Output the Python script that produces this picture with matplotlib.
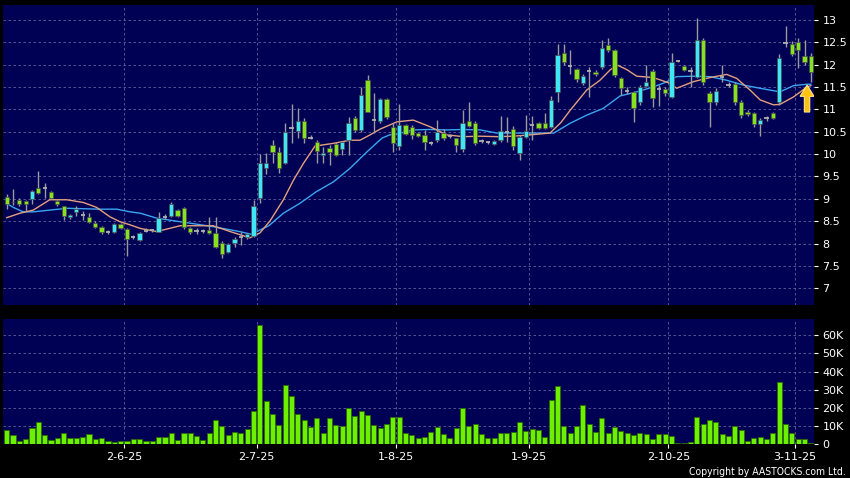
import matplotlib
matplotlib.use("Agg")
import matplotlib.pyplot as plt
from matplotlib.patches import FancyArrow
import numpy as np

# ---------------- data ----------------
opens = [9.05, 8.93, 8.98, 8.96, 8.99, 9.24, 9.25, 9.16, 8.96, 8.83,
         8.59, 8.71, 8.63, 8.59, 8.47, 8.37, 8.27, 8.25, 8.44, 8.33,
         8.14, 8.08, 8.29, 8.30, 8.27, 8.60, 8.62, 8.75, 8.79, 8.34,
         8.29, 8.29, 8.31, 8.23, 8.02, 7.82, 8.01, 8.14, 8.14, 8.17,
         9.01, 9.68, 10.20, 10.05, 9.81, 10.59, 10.52, 10.75, 10.37, 10.28,
         9.97, 10.13, 10.23, 10.11, 10.31, 10.80, 10.54, 11.65, 10.76, 10.75,
         11.22, 10.61, 10.17, 10.65, 10.61, 10.47, 10.43, 10.24, 10.31, 10.47,
         10.40, 10.35, 10.11, 10.75, 10.70, 10.29, 10.26, 10.23, 10.31, 10.50,
         10.55, 10.02, 10.39, 10.65, 10.69, 10.69, 10.60, 11.39, 12.25, 11.97,
         11.89, 11.59, 11.86, 11.84, 11.94, 12.43, 12.32, 11.69, 11.42, 11.39,
         11.16, 11.52, 11.86, 11.45, 11.45, 11.28, 12.08, 11.97, 11.85, 11.73,
         12.55, 11.36, 11.16, 11.73, 11.54, 11.56, 11.16, 10.95, 10.91, 10.67,
         10.80, 10.91, 11.17, 12.49, 12.47, 12.50, 12.20, 12.20]
highs = [9.12, 9.21, 9.02, 8.98, 9.20, 9.62, 9.36, 9.18, 8.98, 8.85,
         8.66, 8.84, 8.72, 8.68, 8.50, 8.40, 8.30, 8.47, 8.46, 8.36,
         8.20, 8.26, 8.35, 8.33, 8.71, 8.66, 8.92, 8.77, 8.81, 8.38,
         8.36, 8.33, 8.60, 8.60, 8.05, 8.01, 8.14, 8.27, 8.24, 8.98,
         10.00, 10.02, 10.31, 10.15, 10.69, 11.13, 11.04, 10.80, 10.42, 10.31,
         10.15, 10.20, 10.26, 10.30, 10.82, 10.85, 11.49, 11.77, 11.36, 11.25,
         11.25, 10.69, 11.13, 10.68, 10.64, 10.50, 10.54, 10.29, 10.76, 10.55,
         10.45, 10.37, 10.98, 11.17, 10.74, 10.33, 10.30, 10.32, 10.84, 10.82,
         10.62, 10.42, 10.87, 10.84, 10.72, 10.91, 11.30, 12.47, 12.47, 12.32,
         11.93, 11.80, 11.95, 11.88, 12.55, 12.60, 12.35, 11.72, 11.50, 11.42,
         11.55, 11.99, 11.90, 11.55, 11.50, 12.25, 12.10, 12.00, 11.95, 13.03,
         12.60, 11.40, 11.48, 11.99, 11.60, 11.60, 11.20, 10.98, 10.95, 10.80,
         10.85, 10.95, 12.23, 12.87, 12.52, 12.60, 12.55, 12.25]
lows = [8.78, 8.86, 8.85, 8.74, 8.88, 9.10, 9.01, 9.00, 8.85, 8.52,
        8.55, 8.62, 8.52, 8.47, 8.35, 8.22, 8.22, 8.24, 8.32, 7.73,
        8.10, 8.05, 8.25, 8.27, 8.25, 8.55, 8.60, 8.60, 8.32, 8.22,
        8.22, 8.24, 8.22, 7.90, 7.67, 7.80, 7.93, 7.97, 8.10, 8.15,
        8.90, 9.55, 9.80, 9.57, 9.78, 10.24, 10.35, 10.24, 10.33, 9.80,
        9.80, 9.76, 9.95, 9.98, 9.98, 10.50, 10.50, 10.93, 10.47, 10.70,
        10.78, 10.05, 10.09, 10.42, 10.33, 10.38, 10.09, 10.20, 10.28, 10.31,
        10.36, 10.05, 10.05, 10.60, 10.20, 10.24, 10.22, 10.20, 10.28, 10.28,
        10.10, 9.87, 10.36, 10.31, 10.55, 10.55, 10.58, 11.17, 12.00, 11.80,
        11.60, 11.55, 11.28, 11.75, 11.90, 12.28, 11.72, 11.32, 11.35, 10.71,
        11.10, 11.50, 11.06, 11.08, 11.30, 11.25, 12.05, 11.85, 11.50, 11.70,
        11.55, 10.61, 11.10, 11.60, 11.50, 11.10, 10.80, 10.85, 10.60, 10.40,
        10.75, 10.78, 11.10, 12.40, 12.20, 11.92, 12.00, 11.61]
closes = [8.88, 8.92, 8.88, 8.88, 9.18, 9.14, 9.25, 9.01, 8.88, 8.61,
          8.63, 8.77, 8.63, 8.49, 8.37, 8.25, 8.27, 8.44, 8.34, 8.10,
          8.14, 8.23, 8.29, 8.30, 8.58, 8.60, 8.88, 8.62, 8.38, 8.25,
          8.29, 8.29, 8.23, 7.93, 7.77, 7.99, 8.10, 8.14, 8.21, 8.84,
          9.80, 9.81, 10.05, 9.68, 10.50, 10.59, 10.75, 10.37, 10.37, 10.08,
          10.03, 10.05, 9.98, 10.28, 10.69, 10.54, 11.32, 10.95, 10.76, 11.22,
          10.82, 10.24, 10.65, 10.45, 10.43, 10.40, 10.28, 10.24, 10.50, 10.35,
          10.40, 10.20, 10.69, 10.63, 10.24, 10.29, 10.26, 10.29, 10.52, 10.50,
          10.17, 10.39, 10.52, 10.65, 10.58, 10.58, 11.21, 12.21, 12.05, 11.97,
          11.67, 11.75, 11.86, 11.79, 12.38, 12.32, 11.77, 11.47, 11.42, 11.04,
          11.50, 11.62, 11.25, 11.45, 11.36, 12.06, 12.08, 11.88, 11.85, 12.55,
          11.60, 11.16, 11.42, 11.73, 11.54, 11.16, 10.87, 10.89, 10.67, 10.76,
          10.80, 10.80, 12.14, 12.49, 12.23, 12.32, 12.06, 11.84]
volumes_k = [8.0, 5.2, 1.9, 3.0, 8.7, 12.3, 5.2, 2.4, 3.2, 5.8,
             3.3, 3.3, 3.7, 5.4, 3.0, 3.5, 1.9, 1.3, 1.9, 1.9,
             2.6, 2.6, 1.9, 1.7, 3.7, 3.7, 5.8, 2.2, 5.9, 5.9,
             4.3, 2.4, 5.9, 13.0, 9.8, 4.8, 6.7, 5.9, 8.4, 18.0,
             65.6, 23.8, 16.5, 10.4, 32.5, 26.6, 16.5, 13.2, 9.5, 14.1,
             5.8, 14.1, 10.4, 9.8, 20.1, 15.2, 18.2, 15.8, 10.4, 8.9,
             11.3, 14.9, 14.9, 6.3, 5.2, 3.3, 4.1, 6.5, 9.3, 5.4,
             3.2, 8.9, 19.9, 9.7, 11.3, 5.4, 3.5, 3.5, 5.9, 5.9,
             6.5, 12.4, 7.1, 8.4, 7.6, 3.9, 24.1, 32.1, 9.8, 6.3,
             9.8, 21.4, 11.3, 6.5, 14.5, 6.1, 9.5, 7.1, 5.8, 5.2,
             5.8, 5.4, 3.0, 5.4, 5.4, 4.6, 0.6, 0.6, 0.9, 15.0,
             10.8, 13.4, 12.1, 5.4, 4.3, 9.8, 8.0, 1.9, 3.3, 3.9,
             3.0, 5.9, 34.4, 11.3, 5.9, 2.8, 2.6, 0.6]

# moving averages read at sample positions (candle index, price)
ma_short_idx = [0, 2.1, 4.2, 6.8, 9.5, 12.1, 14.2, 16.3, 17.9, 19.5, 21.1, 23.7, 27.4,
                32.6, 35.3, 38.4, 40.0, 41.6, 43.7, 45.3, 46.9, 48.7, 51.6, 54.2,
                55.8, 57.4, 59.0, 60.5, 61.6, 64.2, 66.9, 69.5, 72.1, 74.8, 77.4,
                80.0, 82.7, 85.8, 87.5, 89.0, 91.6, 93.7, 95.3, 96.4, 97.9, 99.5,
                102.1, 104.8, 105.8, 108.5, 111.1, 113.7, 115.3, 117.4, 119.0,
                121.1, 122.1, 124.3, 126.4, 127]
ma_short = [8.58, 8.68, 8.75, 8.98, 8.98, 8.92, 8.81, 8.60, 8.49, 8.42, 8.34, 8.27, 8.40,
            8.40, 8.27, 8.13, 8.24, 8.51, 8.98, 9.42, 9.80, 10.18, 10.24, 10.31,
            10.31, 10.43, 10.56, 10.65, 10.72, 10.76, 10.61, 10.43, 10.39, 10.40, 10.39,
            10.40, 10.43, 10.47, 10.70, 10.98, 11.43, 11.65, 11.88, 11.99, 11.89, 11.74,
            11.71, 11.58, 11.47, 11.62, 11.71, 11.78, 11.69, 11.43, 11.21,
            11.10, 11.11, 11.28, 11.50, 11.53]
ma_long_idx = [0, 1.05, 2.6, 4.2, 9.5, 14.7, 17.4, 19.5, 21.1, 23.7, 27.4, 32.6, 36.8,
               38.6, 41.4, 43.7, 46.3, 48.9, 51.6, 54.2, 56.9, 59.3, 60.5, 61.6, 64.2,
               66.9, 69.5, 72.1, 74.8, 77.4, 80.0, 82.7, 86.4, 89.0, 91.6, 94.2,
               96.9, 99.5, 102.1, 104.0, 105.8, 108.5, 111.1, 113.7, 116.4, 119.0,
               122.1, 124.3, 126.4, 127]
ma_long = [8.90, 8.81, 8.71, 8.71, 8.79, 8.77, 8.77, 8.71, 8.68, 8.57, 8.49, 8.38, 8.27,
           8.21, 8.40, 8.68, 8.90, 9.16, 9.38, 9.68, 10.05, 10.36, 10.43, 10.45, 10.54,
           10.55, 10.54, 10.55, 10.54, 10.47, 10.47, 10.47, 10.47, 10.69, 10.87, 11.02,
           11.30, 11.39, 11.50, 11.60, 11.73, 11.74, 11.73, 11.65, 11.54, 11.47,
           11.39, 11.53, 11.56, 11.56]

date_labels = ['2-6-25', '2-7-25', '1-8-25', '1-9-25', '2-10-25', '3-11-25']
date_index = [19, 40, 62, 83, 105, 125]

price_ticks = [7, 7.5, 8, 8.5, 9, 9.5, 10, 10.5, 11, 11.5, 12, 12.5, 13]
volume_ticks_k = [0, 10, 20, 30, 40, 50, 60]

# ---------------- styling ----------------
BG = '#000055'
FIG_BG = '#000000'
UP = '#3fe6f6'
DOWN = '#86e21e'
WICK = '#9a9a9a'
EDGE = '#4a4a4a'
VOL = '#6cf000'
VOL_EDGE = '#2b6a00'
GRID = '#7a7ab0'
C_SHORT = '#e6a07c'
C_LONG = '#3aa6f0'
TXT = '#ffffff'

fig = plt.figure(figsize=(8.5, 4.78), dpi=100, facecolor=FIG_BG)
W, H = 850, 478
L, R = 3, 814
ax = fig.add_axes([L / W, 1 - 305 / H, (R - L) / W, (305 - 5) / H])
axv = fig.add_axes([L / W, 1 - 444 / H, (R - L) / W, (444 - 319) / H], sharex=ax)

n = len(closes)
x = np.arange(n)
o = np.array(opens); c = np.array(closes); h = np.array(highs); lo = np.array(lows)

for a in (ax, axv):
    a.set_facecolor(BG)
    for s in a.spines.values():
        s.set_visible(False)
    a.set_axisbelow(True)

grid_x = [d - 0.5 for d in date_index]
for a in (ax, axv):
    for gx in grid_x:
        a.axvline(gx, color=GRID, lw=0.6, ls=(0, (3, 3)), alpha=0.8, zorder=0)
for t in price_ticks:
    ax.axhline(t, color=GRID, lw=0.6, ls=(0, (3, 3)), alpha=0.8, zorder=0)
for t in volume_ticks_k[1:]:
    axv.axhline(t, color=GRID, lw=0.6, ls=(0, (3, 3)), alpha=0.8, zorder=0)

# moving averages
ax.plot(ma_long_idx, ma_long, color=C_LONG, lw=1.0, zorder=2)
ax.plot(ma_short_idx, ma_short, color=C_SHORT, lw=1.0, zorder=2)

# candles
bw = 0.68
ax.vlines(x, lo, h, color=WICK, lw=1.0, zorder=3)
up = c > o
dn = c < o
dj = c == o
ax.bar(x[up], (c - o)[up], bottom=o[up], width=bw, color=UP, edgecolor=EDGE, lw=0.5, zorder=4)
ax.bar(x[dn], (o - c)[dn], bottom=c[dn], width=bw, color=DOWN, edgecolor=EDGE, lw=0.5, zorder=4)
ax.hlines(c[dj], x[dj] - bw / 2, x[dj] + bw / 2, color='#b0b0b0', lw=1.3, zorder=4)

# arrow marker
arr_x, arr_y0, arr_len = 126.4, 10.94, 0.60
ax.add_patch(FancyArrow(arr_x, arr_y0, 0, arr_len, width=0.85, head_width=2.2,
                        head_length=0.25, length_includes_head=True,
                        facecolor='#ffc20e', edgecolor='#ffe78a', lw=0.8, zorder=6))

ax.set_xlim(-0.58, 127.5)
ax.set_ylim(6.63, 13.33)
ax.set_yticks(price_ticks)
ax.set_yticklabels([('%g' % t) for t in price_ticks])

# volume
axv.bar(x, volumes_k, width=0.8, color=VOL, edgecolor=VOL_EDGE, lw=0.6, zorder=3)
axv.set_ylim(0, 69)
axv.set_yticks(volume_ticks_k)
axv.set_yticklabels(['0'] + ['%dK' % v for v in volume_ticks_k[1:]])

for a in (ax, axv):
    a.yaxis.tick_right()
    a.tick_params(axis='y', colors=TXT, labelsize=8, length=3, width=0.8, pad=3)
ax.tick_params(axis='x', bottom=False, labelbottom=False)
axv.set_xticks(grid_x)
axv.set_xticklabels(date_labels)
axv.tick_params(axis='x', colors=TXT, labelsize=8, length=3, width=0.8, pad=3)

fig.text(846 / W, 1 - 472 / H, 'Copyright by AASTOCKS.com Ltd.', color=TXT,
         fontsize=7.5, fontstretch='condensed', ha='right', va='center')

fig.savefig('out.png', dpi=100, facecolor=FIG_BG)
